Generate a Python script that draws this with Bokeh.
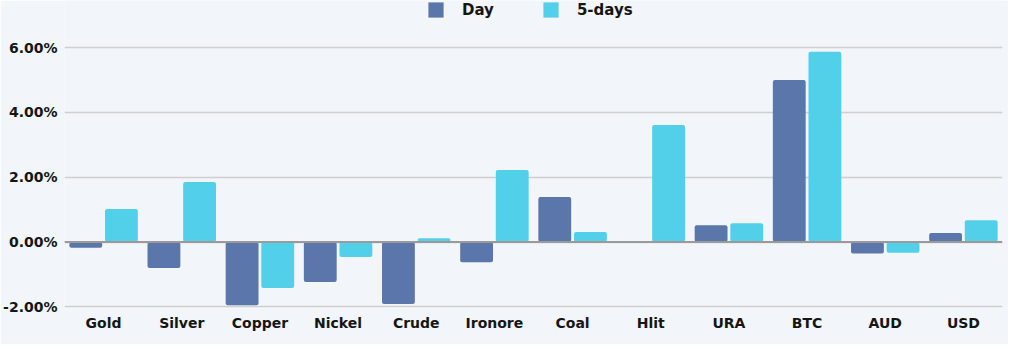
from bokeh.plotting import figure
from bokeh.models import (ColumnDataSource, FactorRange, Range1d, FixedTicker,
                          PrintfTickFormatter, Span, Legend, LegendItem)
from bokeh.transform import dodge
from bokeh.embed import file_html
from bokeh.resources import INLINE

categories = ["Gold", "Silver", "Copper", "Nickel", "Crude", "Ironore",
              "Coal", "Hlit", "URA", "BTC", "AUD", "USD"]
day = [-0.18, -0.80, -1.95, -1.23, -1.91, -0.62, 1.39, 0.0, 0.52, 5.00, -0.35, 0.28]
five_days = [1.02, 1.85, -1.42, -0.46, 0.12, 2.22, 0.31, 3.61, 0.58, 5.87, -0.33, 0.67]
y_ticks = [-2, 0, 2, 4, 6]

src = ColumnDataSource(dict(cat=categories, day=day, five=five_days))

FONT = "DejaVu Sans"
TXT = "#151515"
BG = "#f2f5f9"

p = figure(width=1008, height=344, x_range=FactorRange(*categories, range_padding=0),
           y_range=Range1d(-2.05, 7.45), output_backend="svg", toolbar_location=None,
           min_border_left=56, min_border_right=6, min_border_top=0, min_border_bottom=36)
p.background_fill_color = BG
p.border_fill_color = BG
p.outline_line_color = None

r1 = p.vbar(x=dodge("cat", -0.228, range=p.x_range), top="day", width=0.42, source=src,
            color="#5a76aa", line_color=None, border_radius=2)
r2 = p.vbar(x=dodge("cat", 0.228, range=p.x_range), top="five", width=0.42, source=src,
            color="#52cfe9", line_color=None, border_radius=2)

p.add_layout(Span(location=0, dimension="width", line_color="#9a9a9a", line_width=2))

p.xgrid.grid_line_color = None
p.ygrid.grid_line_color = "#cfcfcf"
p.ygrid.grid_line_width = 1.5
p.ygrid.ticker = FixedTicker(ticks=y_ticks)

p.yaxis.ticker = FixedTicker(ticks=y_ticks)
p.yaxis.formatter = PrintfTickFormatter(format="%.2f%%")
for ax in (p.xaxis, p.yaxis):
    ax.axis_line_color = None
    ax.major_tick_line_color = None
    ax.minor_tick_line_color = None
    ax.major_tick_out = 0
    ax.major_tick_in = 0
    ax.minor_tick_out = 0
    ax.major_label_text_font = FONT
    ax.major_label_text_font_style = "bold"
    ax.major_label_text_font_size = "14px"
    ax.major_label_text_color = TXT
p.yaxis.major_label_standoff = 7
p.xaxis.major_label_standoff = 6

legend = Legend(items=[LegendItem(label="Day", renderers=[r1]),
                       LegendItem(label="5-days", renderers=[r2])],
                orientation="horizontal", location=(362, 289))
legend.background_fill_alpha = 0
legend.border_line_color = None
legend.glyph_width = 19
legend.glyph_height = 19
legend.label_standoff = 17
legend.spacing = 47
legend.padding = 0
legend.margin = 0
legend.label_text_font = FONT
legend.label_text_font_style = "bold"
legend.label_text_font_size = "15px"
legend.label_text_color = TXT
p.add_layout(legend, "center")

open("out.html", "w").write(file_html(p, INLINE))
